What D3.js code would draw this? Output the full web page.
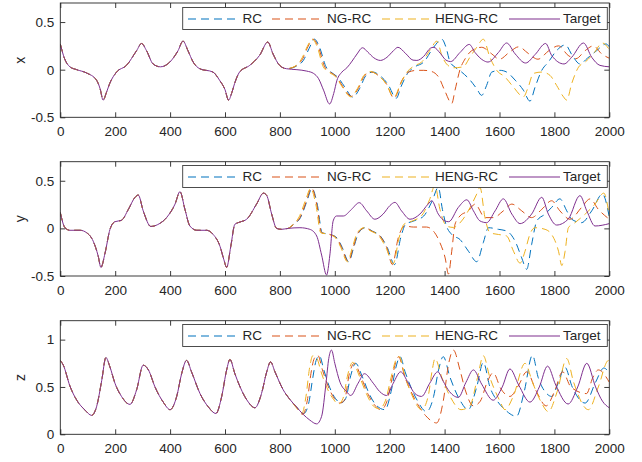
<!DOCTYPE html>
<html><head><meta charset="utf-8">
<script src="https://cdn.jsdelivr.net/npm/d3@7"></script>
<style>body{margin:0;background:#fff}svg{display:block}</style>
</head><body>
<script>
// ---------- DATA ----------
const seriesNames = ["RC","NG-RC","HENG-RC","Target"];
const seriesColors = ["#0072BD","#D95319","#EDB120","#7E2F8E"];
const xTicks = [0,200,400,600,800,1000,1200,1400,1600,1800,2000];

// shared warm-up segment (all series coincide), [t, value]
const warmX = [[0,0.27],[15,0.12],[35,0.03],[60,0.0],[96,-0.035],[132,-0.11],[145,-0.2],[156,-0.32],[168,-0.24],[180,-0.145],[205,-0.025],[241,0.045],[278,0.2],[296,0.275],[314,0.2],[338,0.06],[365,0.03],[399,0.08],[429,0.2],[447,0.3],[465,0.2],[484,0.08],[508,0.01],[556,-0.025],[580,-0.11],[600,-0.21],[613,-0.32],[625,-0.24],[635,-0.145],[653,-0.025],[690,0.045],[726,0.15],[756,0.29],[775,0.165],[799,0.045],[824,0.01]];
const targetXTail = [[862,0.0],[898,-0.015],[923,-0.04],[941,-0.095],[959,-0.215],[981,-0.36],[996,-0.25],[1008,-0.11],[1026,-0.025],[1044,0.02],[1063,0.09],[1081,0.165],[1101,0.23],[1120,0.185],[1142,0.125],[1166,0.097],[1190,0.13],[1214,0.2],[1230,0.235],[1257,0.173],[1285,0.1],[1299,0.097],[1324,0.14],[1348,0.225],[1360,0.235],[1384,0.173],[1405,0.1],[1422,0.085],[1456,0.18],[1490,0.265],[1511,0.18],[1541,0.097],[1558,0.08],[1596,0.18],[1626,0.28],[1657,0.166],[1695,0.07],[1730,0.16],[1768,0.275],[1790,0.15],[1835,0.06],[1863,0.13],[1906,0.28],[1936,0.13],[1966,0.045],[2000,0.03]];
const rcXTail = [[862,0.04],[886,0.1],[906,0.22],[926,0.32],[945,0.23],[968,0.03],[986,-0.025],[1011,-0.08],[1036,-0.18],[1066,-0.29],[1090,-0.2],[1114,-0.06],[1139,-0.025],[1163,-0.06],[1193,-0.15],[1224,-0.3],[1241,-0.18],[1265,-0.04],[1290,0.027],[1324,0.08],[1360,0.235],[1390,0.32],[1405,0.235],[1420,0.08],[1438,0.027],[1462,-0.025],[1493,-0.11],[1517,-0.2],[1535,-0.27],[1553,-0.165],[1572,-0.025],[1602,-0.007],[1626,-0.025],[1657,-0.11],[1687,-0.215],[1711,-0.33],[1730,-0.18],[1754,-0.007],[1778,0.08],[1808,0.2],[1840,0.26],[1865,0.15],[1893,0.06],[1920,0.12],[1954,0.2],[1988,0.27],[2000,0.24]];
const ngXTail = [[862,0.045],[884,0.12],[902,0.24],[921,0.32],[940,0.24],[963,0.03],[981,-0.02],[1006,-0.075],[1030,-0.18],[1061,-0.28],[1085,-0.2],[1109,-0.06],[1134,-0.025],[1158,-0.06],[1188,-0.15],[1216,-0.3],[1245,-0.11],[1269,-0.025],[1300,-0.007],[1324,-0.007],[1348,-0.015],[1378,-0.077],[1402,-0.23],[1426,-0.355],[1438,-0.215],[1456,0.0],[1475,0.115],[1499,0.2],[1535,0.235],[1570,0.17],[1600,0.11],[1635,0.18],[1670,0.24],[1705,0.17],[1740,0.11],[1780,0.2],[1815,0.25],[1850,0.15],[1878,0.115],[1912,0.2],[1942,0.25],[1972,0.166],[2000,0.12]];
const hengXTail = [[862,0.05],[882,0.13],[900,0.245],[918,0.32],[936,0.24],[958,0.03],[978,-0.025],[1003,-0.075],[1027,-0.18],[1058,-0.285],[1082,-0.2],[1106,-0.06],[1131,-0.02],[1155,-0.055],[1185,-0.14],[1216,-0.29],[1235,-0.18],[1259,-0.04],[1284,0.03],[1320,0.09],[1350,0.22],[1372,0.3],[1390,0.15],[1407,0.06],[1432,0.02],[1468,0.03],[1492,0.13],[1517,0.235],[1541,0.32],[1565,0.13],[1590,-0.007],[1620,-0.077],[1650,-0.18],[1687,-0.285],[1705,-0.18],[1723,-0.04],[1754,-0.025],[1784,-0.06],[1808,-0.165],[1833,-0.285],[1845,-0.32],[1863,-0.146],[1888,0.027],[1912,0.08],[1942,0.166],[1975,0.28],[2000,0.21]];

const warmY = [[0,0.167],[17,0.007],[35,-0.02],[72,-0.02],[96,-0.046],[120,-0.135],[138,-0.29],[148,-0.41],[163,-0.26],[181,-0.01],[199,0.07],[223,0.085],[248,0.2],[272,0.325],[284,0.35],[302,0.185],[330,0.02],[355,0.04],[387,0.113],[418,0.255],[436,0.386],[454,0.2],[472,0.025],[497,-0.02],[533,-0.02],[557,-0.064],[582,-0.19],[596,-0.33],[606,-0.41],[621,-0.19],[636,0.043],[655,0.067],[679,0.096],[715,0.255],[740,0.37],[752,0.345],[770,0.15],[788,0.0],[806,-0.01],[830,0.0]];
const targetYTail = [[873,0.007],[909,-0.01],[934,-0.08],[952,-0.28],[970,-0.49],[982,-0.28],[994,0.078],[1006,0.13],[1031,0.13],[1061,0.2],[1089,0.27],[1116,0.184],[1146,0.096],[1176,0.15],[1201,0.24],[1219,0.273],[1243,0.184],[1274,0.096],[1310,0.15],[1340,0.255],[1353,0.29],[1377,0.15],[1401,0.078],[1415,0.07],[1450,0.22],[1481,0.3],[1505,0.184],[1529,0.078],[1553,0.06],[1584,0.184],[1614,0.31],[1645,0.15],[1675,0.05],[1717,0.15],[1754,0.326],[1778,0.15],[1808,0.035],[1851,0.1],[1893,0.344],[1918,0.184],[1948,0.025],[2000,0.05]];
const rcYTail = [[849,0.04],[875,0.113],[899,0.29],[917,0.42],[936,0.255],[954,-0.046],[984,-0.064],[1008,-0.1],[1027,-0.2],[1051,-0.35],[1069,-0.2],[1087,-0.046],[1112,0.007],[1136,-0.028],[1166,-0.08],[1191,-0.2],[1218,-0.38],[1240,-0.1],[1258,0.043],[1288,0.078],[1324,0.13],[1355,0.29],[1377,0.43],[1392,0.2],[1405,0.04],[1426,-0.064],[1456,-0.117],[1487,-0.24],[1517,-0.35],[1541,-0.15],[1560,0.007],[1596,-0.01],[1626,-0.028],[1657,-0.135],[1681,-0.31],[1699,-0.43],[1717,-0.17],[1736,0.078],[1766,0.15],[1790,0.22],[1820,0.31],[1845,0.184],[1863,0.096],[1899,0.06],[1936,0.184],[1975,0.36],[2000,0.12]];
const ngYTail = [[849,0.04],[873,0.113],[897,0.29],[915,0.425],[934,0.255],[952,-0.046],[982,-0.064],[1006,-0.1],[1025,-0.2],[1049,-0.35],[1067,-0.2],[1085,-0.046],[1110,0.007],[1134,-0.028],[1164,-0.08],[1189,-0.2],[1210,-0.38],[1231,-0.1],[1255,0.025],[1286,0.014],[1334,0.014],[1359,-0.028],[1383,-0.15],[1402,-0.31],[1414,-0.48],[1426,-0.24],[1438,0.043],[1456,0.13],[1487,0.184],[1511,0.255],[1547,0.113],[1578,0.113],[1614,0.184],[1645,0.255],[1681,0.184],[1717,0.113],[1754,0.2],[1790,0.29],[1820,0.184],[1857,0.096],[1899,0.22],[1930,0.31],[1960,0.2],[2000,0.096]];
const hengYTail = [[849,0.045],[870,0.12],[894,0.3],[912,0.42],[931,0.25],[949,-0.046],[979,-0.064],[1003,-0.1],[1022,-0.2],[1046,-0.35],[1064,-0.2],[1082,-0.046],[1107,0.007],[1131,-0.028],[1161,-0.08],[1186,-0.2],[1213,-0.37],[1234,-0.1],[1252,0.043],[1283,0.078],[1318,0.14],[1345,0.3],[1365,0.45],[1383,0.2],[1407,0.025],[1432,0.01],[1462,0.078],[1493,0.22],[1517,0.36],[1529,0.43],[1547,0.113],[1566,-0.046],[1596,-0.064],[1626,-0.08],[1651,-0.24],[1675,-0.365],[1693,-0.24],[1711,-0.06],[1729,0.007],[1766,-0.01],[1790,-0.064],[1815,-0.24],[1827,-0.39],[1839,-0.24],[1851,0.007],[1875,0.06],[1912,0.15],[1948,0.255],[1980,0.37],[2000,0.13]];

const warmZ = [[0,0.78],[11,0.73],[35,0.51],[60,0.36],[90,0.256],[114,0.2],[132,0.29],[151,0.57],[166,0.81],[181,0.71],[199,0.54],[223,0.4],[254,0.316],[278,0.47],[302,0.73],[321,0.68],[345,0.5],[375,0.34],[400,0.26],[424,0.4],[442,0.64],[460,0.78],[478,0.66],[509,0.43],[539,0.29],[567,0.22],[588,0.4],[606,0.68],[618,0.79],[636,0.64],[655,0.5],[685,0.34],[709,0.28],[733,0.43],[752,0.66],[766,0.765],[782,0.66],[812,0.47],[836,0.37]];
const targetZTail = [[860,0.29],[885,0.21],[909,0.15],[934,0.11],[952,0.19],[968,0.54],[978,0.8],[988,0.89],[1000,0.75],[1019,0.55],[1043,0.45],[1058,0.41],[1085,0.54],[1108,0.64],[1140,0.54],[1164,0.45],[1189,0.41],[1213,0.54],[1240,0.66],[1268,0.54],[1292,0.43],[1316,0.4],[1346,0.54],[1375,0.66],[1395,0.56],[1413,0.47],[1450,0.39],[1478,0.55],[1505,0.68],[1535,0.53],[1577,0.36],[1610,0.5],[1638,0.69],[1670,0.52],[1711,0.34],[1745,0.5],[1775,0.72],[1805,0.52],[1850,0.32],[1885,0.5],[1918,0.75],[1950,0.5],[1975,0.35],[2000,0.28]];
const rcZTail = [[860,0.29],[887,0.22],[905,0.33],[920,0.6],[932,0.78],[944,0.83],[960,0.68],[978,0.52],[1002,0.38],[1022,0.33],[1040,0.38],[1058,0.62],[1076,0.75],[1100,0.61],[1125,0.43],[1150,0.31],[1183,0.26],[1205,0.45],[1222,0.7],[1238,0.82],[1256,0.66],[1277,0.5],[1300,0.36],[1334,0.24],[1360,0.4],[1378,0.68],[1395,0.82],[1420,0.6],[1456,0.36],[1486,0.26],[1517,0.5],[1541,0.76],[1565,0.5],[1590,0.36],[1620,0.26],[1662,0.19],[1690,0.45],[1720,0.835],[1741,0.6],[1772,0.43],[1790,0.4],[1815,0.55],[1838,0.71],[1865,0.5],[1912,0.33],[1950,0.55],[1980,0.7],[2000,0.65]];
const ngZTail = [[860,0.29],[883,0.21],[900,0.36],[913,0.64],[925,0.8],[938,0.835],[955,0.68],[974,0.52],[998,0.38],[1018,0.33],[1035,0.36],[1053,0.64],[1071,0.75],[1095,0.61],[1120,0.43],[1145,0.31],[1168,0.26],[1190,0.35],[1205,0.54],[1222,0.76],[1232,0.82],[1256,0.6],[1290,0.38],[1330,0.2],[1371,0.12],[1395,0.35],[1415,0.75],[1432,0.89],[1456,0.68],[1475,0.47],[1505,0.3],[1530,0.35],[1555,0.55],[1577,0.65],[1605,0.48],[1638,0.4],[1670,0.52],[1699,0.66],[1735,0.45],[1770,0.3],[1800,0.45],[1830,0.66],[1860,0.5],[1917,0.43],[1940,0.6],[1960,0.68],[2000,0.55]];
const hengZTail = [[860,0.28],[880,0.22],[895,0.4],[908,0.7],[920,0.83],[935,0.8],[950,0.66],[970,0.5],[995,0.37],[1013,0.32],[1030,0.38],[1048,0.64],[1065,0.76],[1090,0.61],[1115,0.43],[1140,0.3],[1162,0.27],[1185,0.36],[1205,0.6],[1225,0.8],[1235,0.82],[1255,0.62],[1280,0.42],[1316,0.26],[1340,0.4],[1355,0.68],[1365,0.8],[1390,0.6],[1420,0.4],[1460,0.26],[1492,0.3],[1520,0.6],[1541,0.83],[1565,0.6],[1600,0.36],[1620,0.26],[1650,0.4],[1693,0.75],[1720,0.55],[1750,0.35],[1778,0.24],[1810,0.45],[1845,0.8],[1870,0.55],[1924,0.26],[1960,0.5],[1997,0.78],[2000,0.78]];

const panelLabels = ["x","y","z"];
const panelDomains = [[-0.5,0.7],[-0.5,0.7],[0,1.2]];
const panelTicks = [[-0.5,0,0.5],[-0.5,0,0.5],[0,0.5,1]];
const panelTickLabels = [["-0.5","0","0.5"],["-0.5","0","0.5"],["0","0.5","1"]];
const panelData = [
  [warmX.concat(rcXTail), warmX.concat(ngXTail), warmX.concat(hengXTail), warmX.concat(targetXTail)],
  [warmY.concat(rcYTail), warmY.concat(ngYTail), warmY.concat(hengYTail), warmY.concat(targetYTail)],
  [warmZ.concat(rcZTail), warmZ.concat(ngZTail), warmZ.concat(hengZTail), warmZ.concat(targetZTail)]
];

// ---------- LAYOUT ----------
const W = 642, H = 462;
const left = 60.3, right = 609.3;
const tops = [3, 161.7, 320.7], bottoms = [117.3, 276, 434.3];
const FONT = "'Liberation Sans', Arial, Helvetica, sans-serif";
const FS = 13.5, AX = "#262626";

const svg = d3.select("body").append("svg").attr("width", W).attr("height", H)
  .style("font-family", FONT);
const defs = svg.append("defs");

const x = d3.scaleLinear().domain([0,2000]).range([left,right]);

panelData.forEach((series, p) => {
  const y = d3.scaleLinear().domain(panelDomains[p]).range([bottoms[p], tops[p]]);
  const g = svg.append("g");
  const clipId = "clip" + p;
  defs.append("clipPath").attr("id", clipId).append("rect")
    .attr("x", left).attr("y", tops[p]).attr("width", right-left).attr("height", bottoms[p]-tops[p]);

  const line = d3.line().x(d => x(d[0])).y(d => y(d[1])).curve(d3.curveMonotoneX);
  const lg = g.append("g").attr("clip-path", `url(#${clipId})`);
  series.forEach((pts, i) => {
    lg.append("path").datum(pts).attr("d", line).attr("fill","none")
      .style("stroke", seriesColors[i]).style("stroke-width", 1)
      .style("stroke-dasharray", i < 3 ? "8,5" : "none");
  });

  g.append("rect").attr("x", left).attr("y", tops[p]).attr("width", right-left)
    .attr("height", bottoms[p]-tops[p]).attr("fill","none").attr("stroke", AX).attr("stroke-width", 0.9);

  const xa = d3.axisBottom(x).tickValues(xTicks).tickSizeInner(-5).tickSizeOuter(0).tickPadding(9)
    .tickFormat(d3.format("d"));
  const xg = g.append("g").attr("transform", `translate(0,${bottoms[p]})`).call(xa);
  const xt = d3.axisTop(x).tickValues(xTicks).tickSizeInner(-5).tickSizeOuter(0).tickFormat("");
  const xtg = g.append("g").attr("transform", `translate(0,${tops[p]})`).call(xt);
  const ya = d3.axisLeft(y).tickValues(panelTicks[p]).tickSizeInner(-5).tickSizeOuter(0).tickPadding(6)
    .tickFormat((d,i) => panelTickLabels[p][i]);
  const yg = g.append("g").attr("transform", `translate(${left},0)`).call(ya);
  const yr = d3.axisRight(y).tickValues(panelTicks[p]).tickSizeInner(-5).tickSizeOuter(0).tickFormat("");
  const yrg = g.append("g").attr("transform", `translate(${right},0)`).call(yr);
  [xg, xtg, yg, yrg].forEach(a => {
    a.select(".domain").remove();
    a.selectAll(".tick line").attr("stroke", AX).attr("stroke-width", 0.9);
    a.selectAll(".tick text").attr("fill", AX).style("font-size", FS+"px").style("font-family", FONT);
  });

  const cy = (tops[p] + bottoms[p]) / 2;
  g.append("text").attr("transform", `translate(25,${cy}) rotate(-90)`).attr("text-anchor","middle")
    .attr("fill", AX).style("font-size", "14px").text(panelLabels[p]);
});

// legends (separate pass, on top)
const legendLineX = [[188,239],[272,319],[382,429],[509,560]];
const legendTextX = [242.5,327,435,563];
tops.forEach((t, p) => {
  const ly = Math.round(t + 3.5) + 0.5, lh = 22;
  const leg = svg.append("g").attr("class", "legend");
  leg.append("rect").attr("x", 182.7).attr("y", ly).attr("width", 607.3-182.7).attr("height", lh)
    .style("fill","#fff").style("stroke", "#3a3a3a").style("stroke-width", 0.9);
  const cyL = ly + lh/2;
  const lineY = Math.round(cyL);
  seriesNames.forEach((name, i) => {
    leg.append("path")
      .attr("d", `M${legendLineX[i][0]},${lineY}L${legendLineX[i][1]},${lineY}`)
      .style("fill","none").style("stroke", seriesColors[i]).style("stroke-width", 1.2)
      .style("stroke-dasharray", i < 3 ? "8,5" : "none");
    leg.append("text").attr("x", legendTextX[i]).attr("y", cyL + 4.9).style("fill", AX)
      .style("font-size", FS+"px").text(name);
  });
});
</script>
</body></html>
